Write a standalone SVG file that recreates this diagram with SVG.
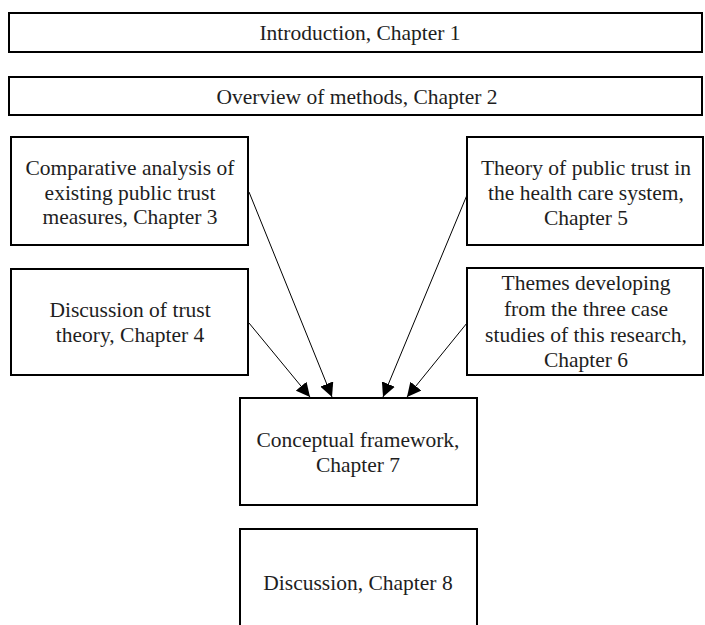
<svg xmlns="http://www.w3.org/2000/svg" width="705" height="625" viewBox="0 0 705 625">
  <style>
    .box { fill: #ffffff; stroke: #000000; stroke-width: 2; }
    .lbl { font-family: "Liberation Serif", "Times New Roman", serif; font-size: 21.5px; fill: #1e1e1e; text-anchor: middle; }
    .edge { stroke: #000000; stroke-width: 1; fill: none; marker-end: url(#arrow); }
  </style>
  <defs>
    <marker id="arrow" viewBox="0 0 10 10" refX="10" refY="5" markerWidth="14" markerHeight="14" markerUnits="userSpaceOnUse" orient="auto">
      <path d="M0,0 L10,5 L0,10 Z" fill="#000000"/>
    </marker>
  </defs>
  <rect width="705" height="625" fill="#ffffff"/>

  <g id="intro">
    <rect class="box" x="9" y="13" width="693" height="39"/>
    <text class="lbl" x="360" y="40">Introduction, Chapter 1</text>
  </g>

  <g id="methods">
    <rect class="box" x="9" y="77" width="693" height="38"/>
    <text class="lbl" x="357" y="104">Overview of methods, Chapter 2</text>
  </g>

  <g id="ch3">
    <rect class="box" x="11" y="137" width="237" height="108"/>
    <text class="lbl" x="130" y="175">Comparative analysis of</text>
    <text class="lbl" x="130" y="200">existing public trust</text>
    <text class="lbl" x="130" y="224">measures, Chapter 3</text>
  </g>

  <g id="ch4">
    <rect class="box" x="11" y="269" width="237" height="106"/>
    <text class="lbl" x="130" y="317">Discussion of trust</text>
    <text class="lbl" x="130" y="342">theory, Chapter 4</text>
  </g>

  <g id="ch5">
    <rect class="box" x="467" y="137" width="236" height="108"/>
    <text class="lbl" x="586" y="175">Theory of public trust in</text>
    <text class="lbl" x="586" y="200">the health care system,</text>
    <text class="lbl" x="586" y="225">Chapter 5</text>
  </g>

  <g id="ch6">
    <rect class="box" x="467" y="268" width="236" height="107"/>
    <text class="lbl" x="586" y="290">Themes developing</text>
    <text class="lbl" x="586" y="316">from the three case</text>
    <text class="lbl" x="586" y="342">studies of this research,</text>
    <text class="lbl" x="586" y="367">Chapter 6</text>
  </g>

  <g id="ch7">
    <rect class="box" x="240" y="398" width="237" height="107"/>
    <text class="lbl" x="358" y="447">Conceptual framework,</text>
    <text class="lbl" x="358" y="472">Chapter 7</text>
  </g>

  <g id="ch8">
    <rect class="box" x="240" y="529" width="237" height="110"/>
    <text class="lbl" x="358" y="590">Discussion, Chapter 8</text>
  </g>

  <g id="connectors">
    <line class="edge" x1="249" y1="192" x2="332" y2="397"/>
    <line class="edge" x1="249" y1="323" x2="310" y2="397"/>
    <line class="edge" x1="467" y1="195" x2="383" y2="397"/>
    <line class="edge" x1="467" y1="323" x2="407" y2="397"/>
  </g>
</svg>
